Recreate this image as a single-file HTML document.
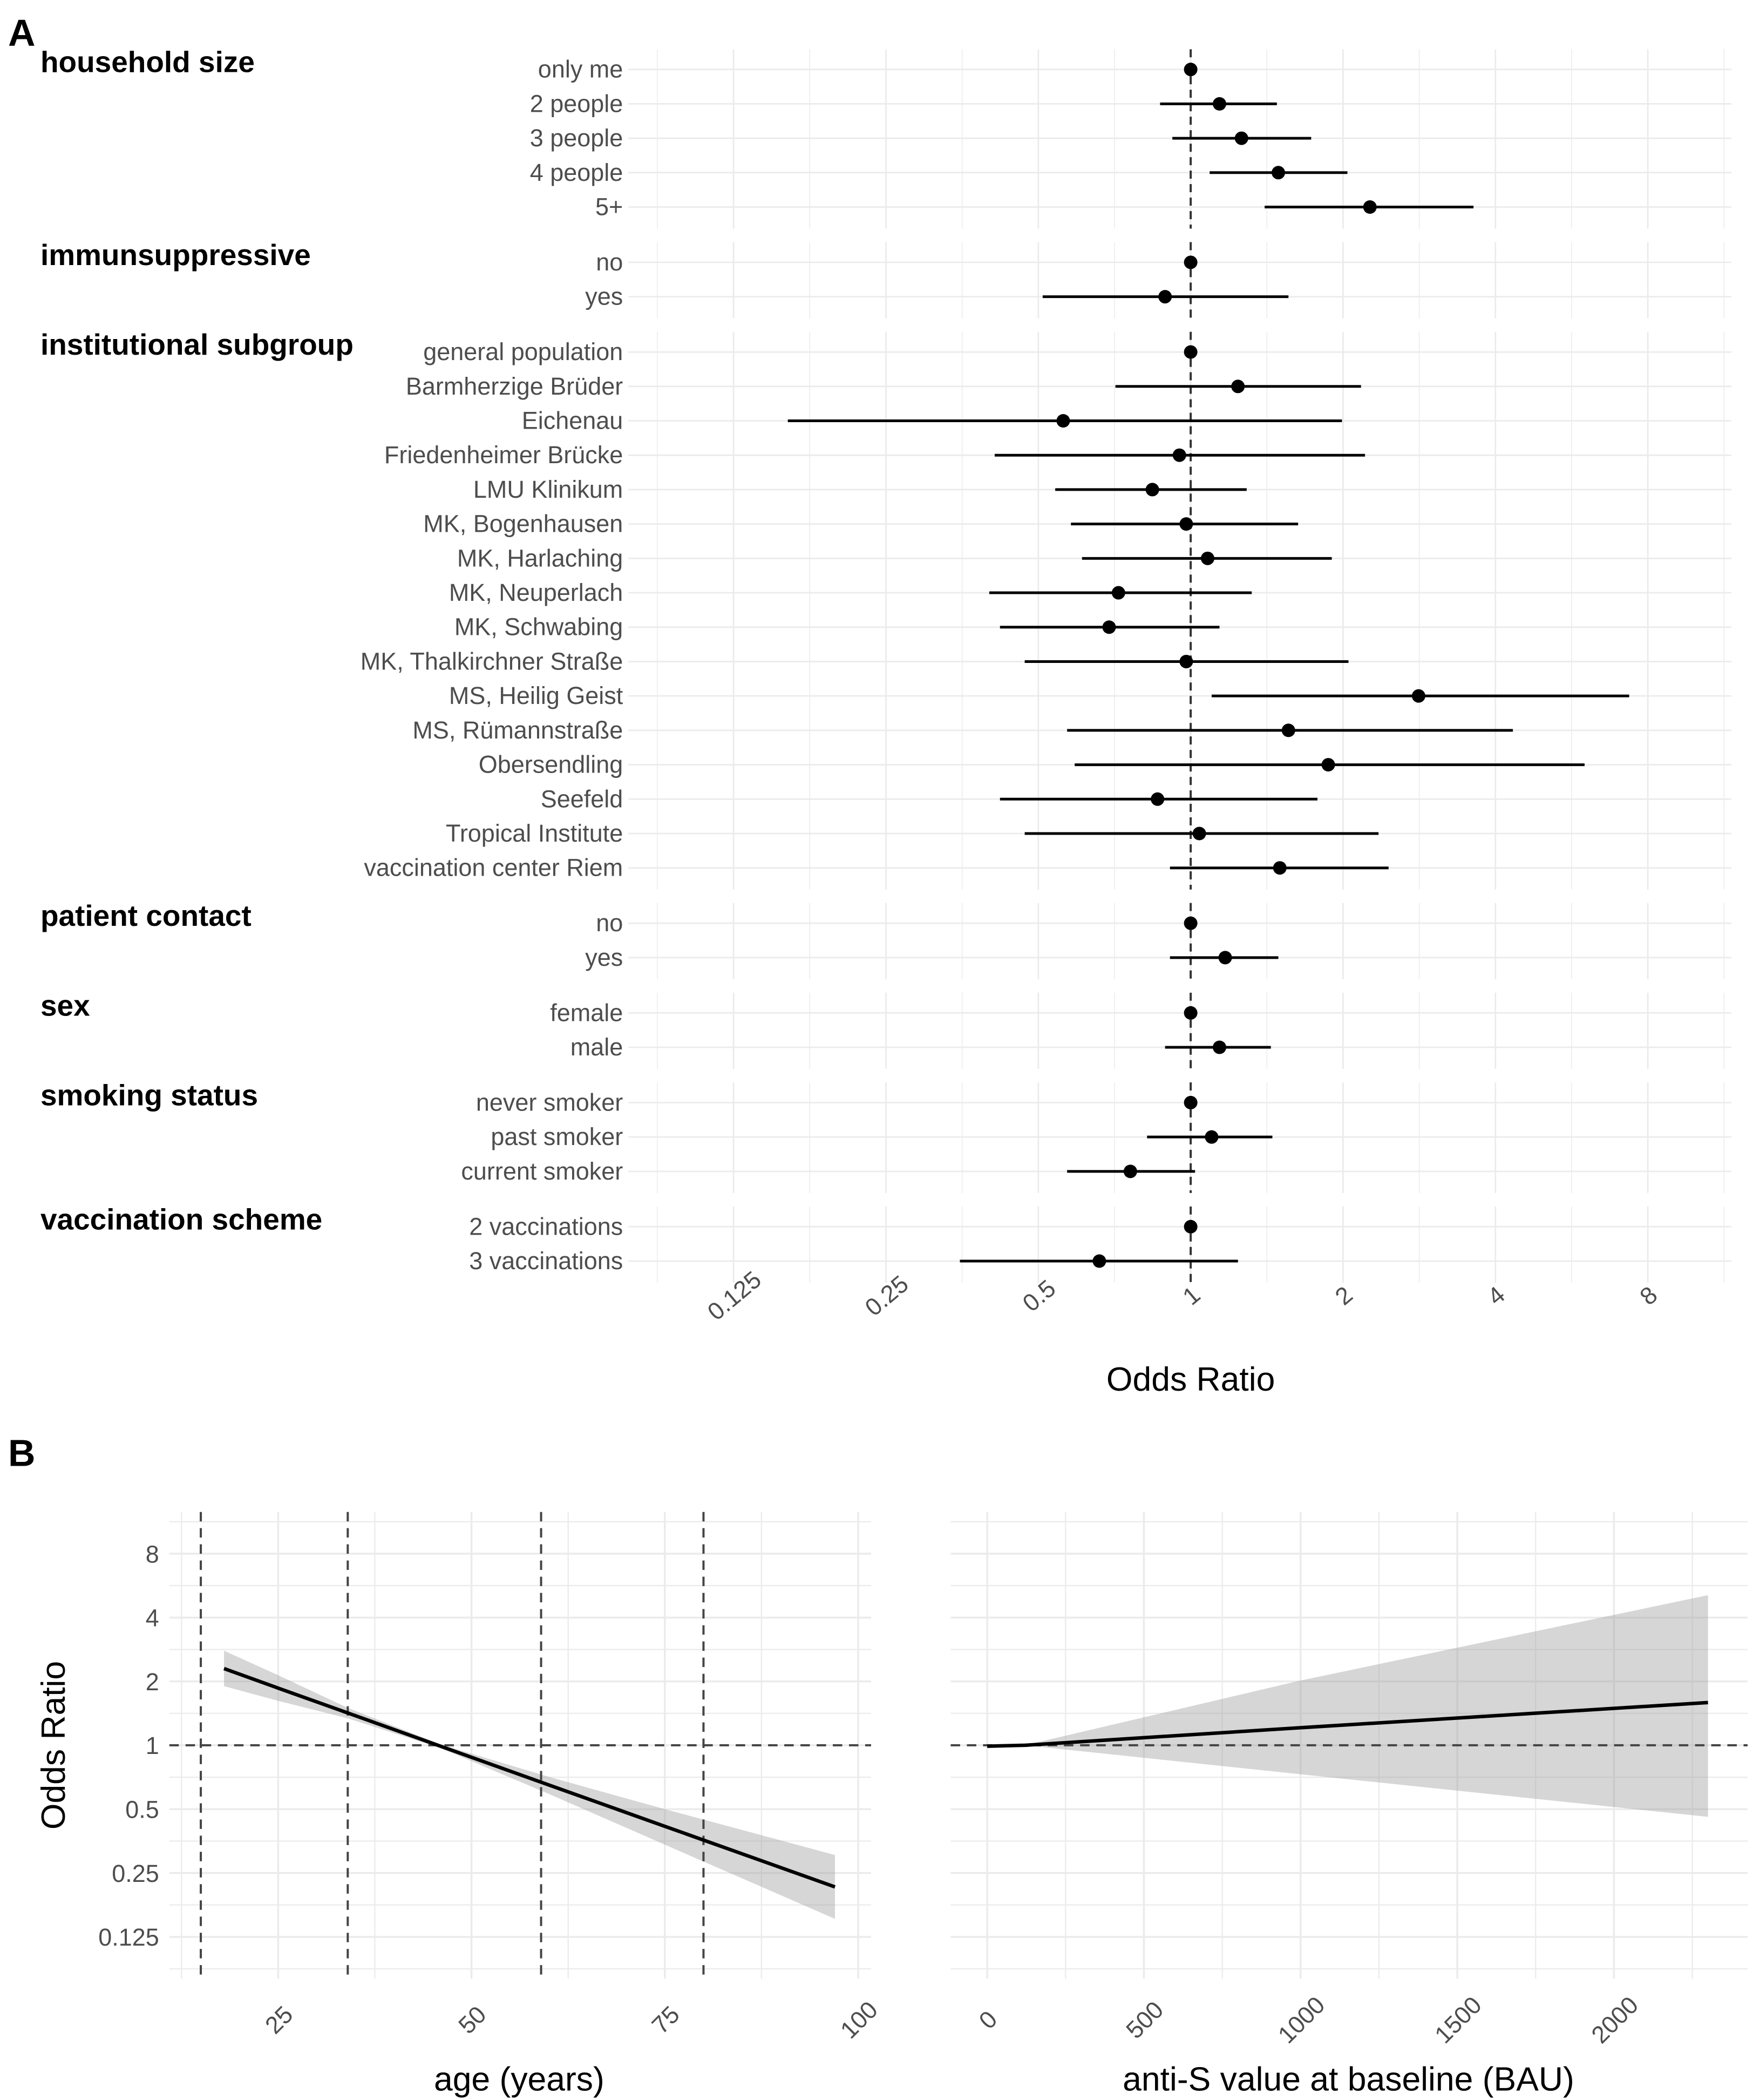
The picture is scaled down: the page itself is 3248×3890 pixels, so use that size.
<!DOCTYPE html>
<html><head><meta charset="utf-8"><style>
html,body{margin:0;padding:0;background:#fff;}
svg{display:block;font-family:"Liberation Sans",Arial,sans-serif;}
</style></head><body>
<svg id="fig" xmlns="http://www.w3.org/2000/svg" width="3248" height="3890" viewBox="0 0 1300 1557" preserveAspectRatio="none">
<rect x="0" y="0" width="1300" height="1557" fill="#fff"/>
<g id="panelA"></g>
<g id="panelB1"></g>
<g id="panelB2"></g>
</svg>
<script>
// ---------- Panel A data ----------
const groupNames = ["household size","immunsuppressive","institutional subgroup","patient contact","sex","smoking status","vaccination scheme"];
const groupSizes = [5,2,16,2,2,3,2];
const rowLabels = ["only me","2 people","3 people","4 people","5+","no","yes","general population","Barmherzige Brüder","Eichenau","Friedenheimer Brücke","LMU Klinikum","MK, Bogenhausen","MK, Harlaching","MK, Neuperlach","MK, Schwabing","MK, Thalkirchner Straße","MS, Heilig Geist","MS, Rümannstraße","Obersendling","Seefeld","Tropical Institute","vaccination center Riem","no","yes","female","male","never smoker","past smoker","current smoker","2 vaccinations","3 vaccinations"];
const orEst = [1,1.14,1.26,1.49,2.26, 1,0.89, 1,1.24,0.56,0.95,0.84,0.98,1.08,0.72,0.69,0.98,2.82,1.56,1.87,0.86,1.04,1.50, 1,1.17, 1,1.14, 1,1.10,0.76, 1,0.66];
const orLow = [null,0.87,0.92,1.09,1.40, null,0.51, null,0.71,0.16,0.41,0.54,0.58,0.61,0.40,0.42,0.47,1.10,0.57,0.59,0.42,0.47,0.91, null,0.91, null,0.89, null,0.82,0.57, null,0.35];
const orHigh = [null,1.48,1.73,2.04,3.62, null,1.56, null,2.17,1.99,2.21,1.29,1.63,1.90,1.32,1.14,2.05,7.35,4.33,6.00,1.78,2.35,2.46, null,1.49, null,1.44, null,1.45,1.02, null,1.24];
const aTicks = [0.125,0.25,0.5,1,2,4,8];
const aTickLabels = ["0.125","0.25","0.5","1","2","4","8"];

// ---------- Panel B data ----------
const ageX = [18,25,34,46,60,75,97];
const ageFit = [2.30,1.86,1.42,0.99,0.65,0.415,0.215];
const ageLow = [1.90,1.62,1.34,0.97,0.59,0.34,0.152];
const ageHigh = [2.79,2.14,1.50,1.01,0.71,0.50,0.304];
const ageKnots = [15,34,59,80];
const ageTicks = [25,50,75,100];
const orTicks = [0.125,0.25,0.5,1,2,4,8];
const orTickLabels = ["0.125","0.25","0.5","1","2","4","8"];
const antiX = [0,120,1000,2300];
const antiFit = [0.99,1.00,1.21,1.59];
const antiLow = [0.97,1.00,0.73,0.46];
const antiHigh = [1.01,1.00,2.02,5.10];
const antiTicks = [0,500,1000,1500,2000];

const NS="http://www.w3.org/2000/svg";
function mk(parent,tag,attrs,text){const e=document.createElementNS(NS,tag);for(const k in attrs)e.setAttribute(k,attrs[k]);if(text!==undefined)e.textContent=text;parent.appendChild(e);return e;}

// ---------- Panel A ----------
(function(){
const g=document.getElementById('panelA');
const xA=v=>883+113*Math.log2(v);
const left=466,right=1284;
const lab=mk(g,'text',{x:6,y:34,'font-size':28,'font-weight':'bold',fill:'#000'},'A');


let y=51.5, idx=0;
for(let gi=0;gi<groupNames.length;gi++){
  const n=groupSizes[gi];
  const top=y-15, bot=y+(n-1)*25.5+16;
  const pg=mk(g,'g',{});
  
  
  for(let k=-7;k<=7;k++){
    const x=883+113*k/2;
    const gl=mk(pg,'line',{x1:x,x2:x,y1:top,y2:bot,stroke:'#ebebeb','stroke-width':k%2===0?1.1:0.6});
    
    
  }
  for(let r=0;r<n;r++){
    const yy=y+r*25.5;
    const hl=mk(pg,'line',{x1:left,x2:right,y1:yy,y2:yy,stroke:'#ebebeb','stroke-width':1.1});
    
    
  }
  const ttl=mk(pg,'text',{x:30,y:top+17,'font-size':22,'font-weight':'bold',fill:'#000'},groupNames[gi]);
  
  
  const ref=mk(pg,'line',{x1:xA(1),x2:xA(1),y1:top,y2:bot,stroke:'#333','stroke-width':1.6,'stroke-dasharray':'6,4'});
  
  
  for(let r=0;r<n;r++,idx++){
    const yy=y+r*25.5;
    const t=mk(pg,'text',{x:462,y:yy+6,'font-size':18,fill:'#4d4d4d','text-anchor':'end'},rowLabels[idx]);
    
    
    if(orLow[idx]!==null){
      const eb=mk(pg,'line',{x1:xA(orLow[idx]),x2:xA(orHigh[idx]),y1:yy,y2:yy,stroke:'#000','stroke-width':2});
      
      
    }
    const c=mk(pg,'circle',{cx:xA(orEst[idx]),cy:yy,r:5,fill:'#000'});
    
    
  }
  y=y+(n-1)*25.5+41;
}
aTicks.forEach((v,i)=>{
  const x=xA(v);
  const t=mk(g,'text',{x:x,y:967,'font-size':18,fill:'#4d4d4d','text-anchor':'middle',transform:`rotate(-40 ${x} 960)`},aTickLabels[i]);
  
  
});
const xt=mk(g,'text',{x:883,y:1031,'font-size':25,fill:'#000','text-anchor':'middle'},'Odds Ratio');


})();

// ---------- Panel B shared ----------
const yTop=1121, yBot=1467;
const yB=v=>1294-47.35*Math.log2(v);
function hgrid(g,l,r){
  for(let k=-8;k<=7;k++){
    const yy=1294-47.35*k/2;
    if(yy<yTop||yy>yBot)continue;
    const gl=mk(g,'line',{x1:l,x2:r,y1:yy,y2:yy,stroke:'#ebebeb','stroke-width':k%2===0?1.4:0.9});
    
    
  }
}
function ribbon(g,xs,lo,hi,xf){
  let d='M'+xs.map((v,i)=>xf(v)+','+yB(hi[i])).join(' L');
  for(let i=xs.length-1;i>=0;i--)d+=' L'+xf(xs[i])+','+yB(lo[i]);
  const p=mk(g,'path',{d:d+'Z',fill:'#999','fill-opacity':0.4});
  
  
}
function fitLine(g,xs,ys,xf){
  const p=mk(g,'polyline',{points:xs.map((v,i)=>xf(v)+','+yB(ys[i])).join(' '),fill:'none',stroke:'#000','stroke-width':2.6});
  
  
}

// ---------- Panel B age ----------
(function(){
const g=document.getElementById('panelB1');
const xf=a=>62.9+5.735*a;
const L=125.6,R=646;
const lab=mk(g,'text',{x:6,y:1087,'font-size':28,'font-weight':'bold',fill:'#000'},'B');


hgrid(g,L,R);
for(let a=12.5;a<=100;a+=12.5){
  const x=xf(a);
  const gl=mk(g,'line',{x1:x,x2:x,y1:yTop,y2:yBot,stroke:'#ebebeb','stroke-width':(a%25===0)?1.4:0.9});
  
  
}
ribbon(g,ageX,ageLow,ageHigh,xf);
ageKnots.forEach(a=>{
  const l=mk(g,'line',{x1:xf(a),x2:xf(a),y1:yTop,y2:yBot,stroke:'#444','stroke-width':1.6,'stroke-dasharray':'7,5'});
  
  
});
const ref=mk(g,'line',{x1:L,x2:R,y1:yB(1),y2:yB(1),stroke:'#444','stroke-width':1.6,'stroke-dasharray':'7,5'});


fitLine(g,ageX,ageFit,xf);
orTicks.forEach((v,i)=>{
  const t=mk(g,'text',{x:118,y:yB(v)+6.5,'font-size':18,fill:'#4d4d4d','text-anchor':'end'},orTickLabels[i]);
  
  
});
ageTicks.forEach(a=>{
  const x=xf(a);
  const t=mk(g,'text',{x:x,y:1504,'font-size':18,fill:'#4d4d4d','text-anchor':'middle',transform:`rotate(-45 ${x} 1497)`},String(a));
  
  
});
const yt=mk(g,'text',{x:48,y:1294,'font-size':25,fill:'#000','text-anchor':'middle',transform:'rotate(-90 48 1294)'},'Odds Ratio');


const xt=mk(g,'text',{x:385,y:1550,'font-size':25,fill:'#000','text-anchor':'middle'},'age (years)');


})();

// ---------- Panel B anti-S ----------
(function(){
const g=document.getElementById('panelB2');
const xf=v=>732.1+0.2324*v;
const L=705,R=1296;
hgrid(g,L,R);
for(let v=0;v<=2500;v+=250){
  const x=xf(v); if(x>R)continue;
  const gl=mk(g,'line',{x1:x,x2:x,y1:yTop,y2:yBot,stroke:'#ebebeb','stroke-width':(v%500===0)?1.4:0.9});
  
  
}
ribbon(g,antiX,antiLow,antiHigh,xf);
const ref=mk(g,'line',{x1:L,x2:R,y1:yB(1),y2:yB(1),stroke:'#444','stroke-width':1.6,'stroke-dasharray':'7,5'});


fitLine(g,antiX,antiFit,xf);
antiTicks.forEach(v=>{
  const x=xf(v);
  const t=mk(g,'text',{x:x,y:1504,'font-size':18,fill:'#4d4d4d','text-anchor':'middle',transform:`rotate(-45 ${x} 1497)`},String(v));
  
  
});
const xt=mk(g,'text',{x:1000,y:1550,'font-size':25,fill:'#000','text-anchor':'middle'},'anti-S value at baseline (BAU)');


})();
</script>
</body></html>
